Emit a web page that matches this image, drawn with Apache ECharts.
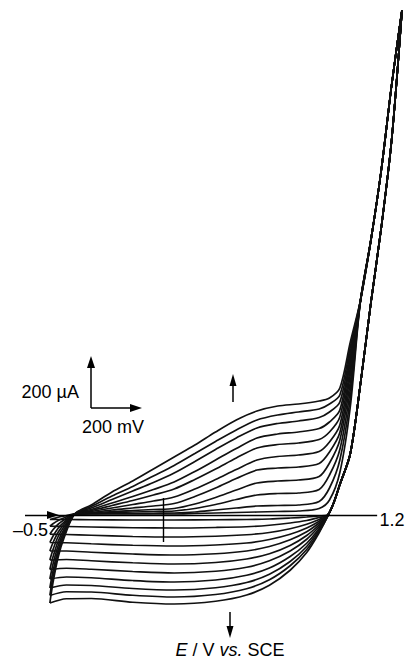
<!DOCTYPE html>
<html>
<head>
<meta charset="utf-8">
<title>CV cycles</title>
<script src="https://cdn.jsdelivr.net/npm/echarts/dist/echarts.min.js"></script>
<style>
  html, body { margin: 0; padding: 0; background: #fff; }
  #cv { width: 409px; height: 660px; }
</style>
</head>
<body>
<div id="cv"></div>
<script>
// potentials (V vs. SCE) of the forward sweep, per cycle currents below (µA)
const fwdPotentials = [-0.485, -0.46, -0.43, -0.38, -0.3, -0.2, -0.1, 0, 0.1, 0.2, 0.3, 0.4, 0.5, 0.6, 0.7, 0.8, 0.85, 0.9, 0.95];
const anodicScans = [
  [-14, -9, -4, 4, 4, 4, 4, 4, 4, 6, 8, 10, 12, 14, 16, 26, 60, 170, 430],
  [-35, -22, -11, 4, 5, 6, 6, 7, 8, 12, 20, 28, 36, 38, 40, 54, 108, 220, 465],
  [-59, -37, -19, 4, 6, 10, 12, 14, 16, 26, 42, 62, 80, 86, 88, 102, 160, 262, 500],
  [-85, -53, -28, 4, 8, 14, 18, 22, 26, 44, 70, 100, 128, 136, 140, 154, 208, 300, 530],
  [-111, -69, -36, 4, 10, 20, 28, 36, 46, 74, 108, 146, 180, 188, 192, 206, 252, 330, 560],
  [-139, -86, -45, 4, 14, 28, 42, 56, 72, 104, 142, 182, 220, 234, 240, 254, 292, 360, 585],
  [-168, -105, -55, 4, 18, 38, 58, 80, 104, 142, 184, 228, 268, 282, 288, 302, 332, 392, 610],
  [-197, -123, -64, 4, 22, 48, 74, 102, 132, 174, 220, 266, 308, 324, 332, 346, 372, 420, 630],
  [-225, -140, -73, 4, 28, 62, 96, 130, 168, 214, 262, 308, 348, 366, 376, 390, 412, 452, 650],
  [-248, -155, -80, 4, 34, 76, 114, 156, 198, 246, 294, 340, 380, 400, 412, 424, 444, 480, 670],
  [-271, -169, -88, 4, 40, 92, 136, 184, 232, 280, 332, 380, 416, 436, 444, 456, 468, 508, 690]
];

// oxygen evolution part, the same for every cycle
const tailFwdPotentials = [1.0, 1.05, 1.1, 1.15, 1.2];
const tailFwdCurrents = [860, 1100, 1380, 1720, 2020];
const tailRevPotentials = [1.15, 1.1, 1.05, 1.0, 0.95, 0.9, 0.87];
const tailRevCurrents = [1500, 1150, 850, 528, 244, 122, 48];

// reverse sweep back to -0.5 V
const revPotentials = [0.84, 0.8, 0.74, 0.66, 0.56, 0.45, 0.3, 0.1, -0.1, -0.3, -0.42, -0.5];
const cathodicScans = [
  [0, -4, -8, -12, -16, -18, -19, -20, -20, -19, -18, -18],
  [-1, -10, -22, -32, -41, -47, -50, -52, -51, -48, -46, -45],
  [-2, -18, -37, -55, -70, -79, -85, -88, -86, -81, -78, -77],
  [-2, -25, -52, -77, -98, -112, -120, -124, -121, -115, -111, -110],
  [-3, -32, -67, -99, -126, -144, -155, -160, -156, -149, -144, -144],
  [-4, -39, -82, -122, -155, -176, -190, -196, -191, -183, -178, -180],
  [-5, -46, -97, -144, -183, -209, -225, -232, -226, -217, -213, -218],
  [-5, -54, -113, -166, -212, -241, -260, -268, -262, -251, -248, -256],
  [-6, -60, -126, -186, -237, -270, -291, -300, -294, -282, -280, -292],
  [-7, -66, -138, -203, -259, -295, -318, -328, -321, -308, -307, -322],
  [-7, -71, -150, -221, -281, -320, -345, -356, -349, -334, -335, -352]
];

// vertical marker on the potential axis
const markerPotential = 0.047;
const markerCurrents = [68, -108];

const chart = echarts.init(document.getElementById('cv'), null, { renderer: 'svg' });

const pairs = (xs, ys) => xs.map((x, i) => [x, ys[i]]);

// each cycle is one closed loop: -0.5 V -> 1.2 V -> -0.5 V
const series = anodicScans.map((anodic, k) => {
  const cathodic = cathodicScans[k];
  const data = [[-0.5, cathodic[cathodic.length - 1]]]
    .concat(pairs(fwdPotentials, anodic))
    .concat(pairs(tailFwdPotentials, tailFwdCurrents))
    .concat(pairs(tailRevPotentials, tailRevCurrents))
    .concat(pairs(revPotentials, cathodic));
  return {
    type: 'line',
    name: 'cycle ' + (k + 1),
    data: data,
    smooth: 0.3,
    symbol: 'none',
    clip: false,
    lineStyle: { color: '#111', width: 1.7 },
    animation: false
  };
});

// axis line and the start marker
series[0].markLine = {
  silent: true,
  symbol: 'none',
  animation: false,
  label: { show: false },
  lineStyle: { color: '#000', width: 1.4, type: 'solid' },
  data: [
    [{ coord: [-0.62, 0] }, { coord: [1.08, 0] }],
    [{ coord: [markerPotential, markerCurrents[0]] }, { coord: [markerPotential, markerCurrents[1]] }]
  ]
};

const font = '"Liberation Sans", Arial, sans-serif';
const ink = '#000';

const arrowLine = (x1, y1, x2, y2) => ({
  type: 'line', silent: true,
  shape: { x1: x1, y1: y1, x2: x2, y2: y2 },
  style: { stroke: ink, lineWidth: 1.5 }
});
const head = (pts) => ({
  type: 'polygon', silent: true,
  shape: { points: pts },
  style: { fill: ink }
});
const label = (text, x, y, align, extra) => ({
  type: 'text', silent: true, x: x, y: y,
  style: Object.assign({
    text: text, fill: ink, fontSize: 18, fontFamily: font,
    align: align, verticalAlign: 'middle'
  }, extra || {})
});

chart.setOption({
  animation: false,
  grid: { left: 25, right: 7, top: 5, bottom: 45 },
  xAxis: { type: 'value', min: -0.62, max: 1.2, show: false },
  yAxis: { type: 'value', min: -400, max: 2040, show: false },
  series: series,
  graphic: [
    // scan direction arrow on the axis
    head([[59, 515], [47, 511], [47, 519]]),
    // scale bar
    arrowLine(91, 408, 91, 366),
    head([[91, 356], [87, 368], [95, 368]]),
    arrowLine(91, 408, 132, 408),
    head([[142, 408], [130, 404], [130, 412]]),
    label('200 µA', 79, 392, 'right'),
    label('200 mV', 82, 427, 'left'),
    // growth arrows
    arrowLine(233, 402, 233, 384),
    head([[233, 374], [229.5, 386], [236.5, 386]]),
    arrowLine(230, 612, 230, 628),
    head([[230, 638], [226.5, 626], [233.5, 626]]),
    // axis labels
    label('\u20130.5', 48, 530, 'right'),
    label('1.2', 392, 520, 'center'),
    label('{i|E} / V {i|vs.} SCE', 230, 650, 'center', {
      rich: { i: { fontStyle: 'italic', fontSize: 18, fontFamily: font } }
    })
  ]
});

window.addEventListener('resize', function () {
  chart.resize();
});
</script>
</body>
</html>
